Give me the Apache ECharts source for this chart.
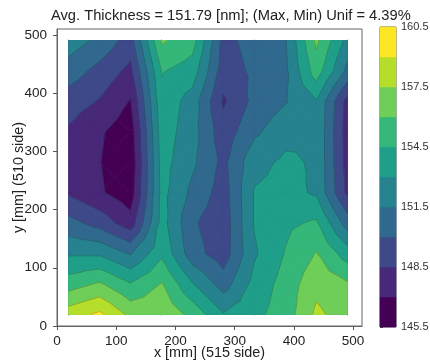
<!DOCTYPE html>
<html><head><meta charset="utf-8">
<script src="https://cdn.jsdelivr.net/npm/echarts@6/dist/echarts.min.js"></script>
<style>html,body{margin:0;padding:0;background:#fff}#c{width:430px;height:364px}</style>
</head><body><div id="c"></div>
<script>
// measurement grid (mm)
const xGrid = [20, 72, 124, 177, 229, 281, 333, 386, 438, 490];
const yGrid = [20, 72, 124, 177, 229, 281, 333, 386, 438, 490];
// thickness [nm], one row per y (bottom -> top), left -> right
const rowY20  = [158.3, 159.3, 157.1, 157.2, 155.5, 153.1, 154.1, 155.2, 157.8, 156.8];
const rowY72  = [155.3, 156.2, 154.6, 156.1, 153.1, 150.8, 153.5, 155.1, 157.1, 156.2];
const rowY124 = [152.8, 152.8, 151.4, 154.2, 150.6, 149.2, 152.8, 154.6, 156.1, 153.8];
const rowY177 = [150.5, 149.4, 147.6, 153.6, 150.2, 149.1, 153.1, 154.2, 154.7, 150.8];
const rowY229 = [148.3, 147.2, 146.1, 153.5, 151.1, 149.3, 153.1, 153.5, 152.8, 148.2];
const rowY281 = [147.6, 147.05, 145.8, 153.6, 151.8, 149.6, 152.5, 153.3, 152.8, 147.9];
const rowY333 = [148.3, 147.2, 146.1, 153.8, 152.1, 149.1, 151.2, 152.5, 152.8, 147.8];
const rowY386 = [149.2, 148.4, 146.9, 154.1, 152.3, 148.3, 150.4, 151.4, 152.9, 148.0];
const rowY438 = [150.8, 149.5, 148.1, 154.6, 153.8, 149.2, 150.3, 151.2, 155.3, 151.1];
const rowY490 = [152.3, 151.1, 149.3, 156.2, 155.1, 149.5, 150.6, 151.4, 156.3, 152.5];
const thickness = [rowY20, rowY72, rowY124, rowY177, rowY229, rowY281, rowY333, rowY386, rowY438, rowY490];

const levels = [145.5, 147, 148.5, 150, 151.5, 153, 154.5, 156, 157.5, 159, 160.5];
const colorbarTicks = [145.5, 148.5, 151.5, 154.5, 157.5, 160.5];
const axisTicks = [0, 100, 200, 300, 400, 500];
const titleText = 'Avg. Thickness = 151.79 [nm]; (Max, Min) Unif = 4.39%';

const bandColors = ['#440154','#482878','#3e4989','#31688e','#26828e','#1f9e89','#35b779','#6ece58','#b5de2b','#fde725'];
const FONT = 'Liberation Sans, Arial, Helvetica, sans-serif';

// ---- contour geometry (linear interpolation on triangles of each grid cell) ----
function lerpPt(a, b, L) {
  const t = (L - a[2]) / (b[2] - a[2]);
  return [a[0] + t * (b[0] - a[0]), a[1] + t * (b[1] - a[1]), L];
}
function clipPoly(poly, L, keepAbove) {
  const out = [];
  const n = poly.length;
  for (let i = 0; i < n; i++) {
    const a = poly[i], b = poly[(i + 1) % n];
    const ia = keepAbove ? a[2] >= L : a[2] <= L;
    const ib = keepAbove ? b[2] >= L : b[2] <= L;
    if (ia) out.push(a);
    if (ia !== ib) out.push(lerpPt(a, b, L));
  }
  return out;
}
const tris = [];
for (let j = 0; j < yGrid.length - 1; j++) {
  for (let i = 0; i < xGrid.length - 1; i++) {
    const p00 = [xGrid[i], yGrid[j], thickness[j][i]];
    const p10 = [xGrid[i + 1], yGrid[j], thickness[j][i + 1]];
    const p11 = [xGrid[i + 1], yGrid[j + 1], thickness[j + 1][i + 1]];
    const p01 = [xGrid[i], yGrid[j + 1], thickness[j + 1][i]];
    const c = [(p00[0] + p10[0]) / 2, (p00[1] + p01[1]) / 2, (p00[2] + p10[2] + p11[2] + p01[2]) / 4];
    tris.push([p00, p10, c], [p10, p11, c], [p11, p01, c], [p01, p00, c]);
  }
}
// layered fill: layer k = region where value >= levels[k], painted in band k colour
const fillPolys = [];
const segs = [];
for (let k = 0; k < bandColors.length; k++) {
  tris.forEach(t => {
    const vmax = Math.max(t[0][2], t[1][2], t[2][2]);
    if (k > 0 && vmax < levels[k]) return;
    const poly = k === 0 ? t : clipPoly(t, levels[k], true);
    if (poly.length >= 3) fillPolys.push({ band: k, pts: poly });
  });
}
tris.forEach(t => {
  const vs = t.map(p => p[2]);
  const vmin = Math.min(...vs), vmax = Math.max(...vs);
  for (let k = 1; k < levels.length - 1; k++) {
    const L = levels[k];
    if (L <= vmin || L >= vmax) continue;
    const pts = [];
    for (let e = 0; e < 3; e++) {
      const a = t[e], b = t[(e + 1) % 3];
      if ((a[2] < L) !== (b[2] < L)) pts.push(lerpPt(a, b, L));
    }
    if (pts.length === 2) segs.push(pts);
  }
});

const chart = echarts.init(document.getElementById('c'), null, { renderer: 'canvas' });
const axisLabelStyle = { color: '#222', fontSize: 13.5, fontFamily: FONT };
chart.setOption({
  animation: false,
  title: {
    text: titleText, left: 46, top: 3,
    textStyle: { fontSize: 14.7, fontWeight: 'normal', color: '#222', fontFamily: FONT }
  },
  grid: [
    { left: 57, top: 29, width: 305, height: 297, show: true, borderColor: '#666', borderWidth: 1, outerBoundsMode: 'none', containLabel: false },
    { left: 380, top: 27, width: 16, height: 300, show: true, borderColor: '#555', borderWidth: 1, outerBoundsMode: 'none', containLabel: false }
  ],
  xAxis: [
    {
      type: 'value', gridIndex: 0, min: 0, max: 515,
      name: 'x [mm] (515 side)', nameLocation: 'middle', nameGap: 20, nameMoveOverlap: false,
      nameTextStyle: { fontSize: 14.4, color: '#222', fontFamily: FONT },
      axisLine: { show: true, lineStyle: { color: '#666' } },
      axisTick: { show: true, length: 4, customValues: axisTicks, lineStyle: { color: '#555' } },
      axisLabel: Object.assign({ margin: 8, customValues: axisTicks }, axisLabelStyle),
      splitLine: { show: false }
    },
    { type: 'value', gridIndex: 1, min: 0, max: 1, show: false }
  ],
  yAxis: [
    {
      type: 'value', gridIndex: 0, min: 0, max: 510,
      name: 'y [mm] (510 side)', nameLocation: 'middle', nameGap: 31, nameMoveOverlap: false,
      nameTextStyle: { fontSize: 14.4, color: '#222', fontFamily: FONT },
      axisLine: { show: true, lineStyle: { color: '#666' } },
      axisTick: { show: true, length: 4, customValues: axisTicks, lineStyle: { color: '#555' } },
      axisLabel: Object.assign({ margin: 10, customValues: axisTicks }, axisLabelStyle),
      splitLine: { show: false }
    },
    {
      type: 'value', gridIndex: 1, min: 145.5, max: 160.5, position: 'right',
      axisLine: { show: false },
      axisTick: { show: true, length: 3, customValues: colorbarTicks, lineStyle: { color: '#444' } },
      axisLabel: { customValues: colorbarTicks, margin: 5, fontSize: 11, color: '#333', fontFamily: FONT,
                   formatter: v => v.toFixed(1) },
      splitLine: { show: false }
    }
  ],
  series: [
    {
      type: 'custom', xAxisIndex: 0, yAxisIndex: 0, progressive: 0, clip: true, silent: true,
      data: fillPolys.map((p, i) => [i]),
      renderItem: (params, api) => {
        const p = fillPolys[params.dataIndex];
        const pts = p.pts.map(q => api.coord([q[0], q[1]]));
        const col = bandColors[p.band];
        return { type: 'polygon', shape: { points: pts }, style: { fill: col, stroke: col, lineWidth: 1 } };
      }
    },
    {
      type: 'custom', xAxisIndex: 0, yAxisIndex: 0, progressive: 0, clip: true, silent: true,
      data: segs.map((s, i) => [i]),
      renderItem: (params, api) => {
        const s = segs[params.dataIndex];
        const a = api.coord([s[0][0], s[0][1]]), b = api.coord([s[1][0], s[1][1]]);
        return { type: 'line', shape: { x1: a[0], y1: a[1], x2: b[0], y2: b[1] },
                 style: { stroke: 'rgba(30,30,40,0.4)', lineWidth: 0.7 } };
      }
    },
    {
      type: 'custom', xAxisIndex: 1, yAxisIndex: 1, progressive: 0, silent: true,
      data: bandColors.map((c, i) => [i]),
      renderItem: (params, api) => {
        const k = params.dataIndex;
        const tl = api.coord([0, levels[k + 1]]);
        const br = api.coord([1, levels[k]]);
        return { type: 'rect', shape: { x: tl[0], y: tl[1], width: br[0] - tl[0], height: br[1] - tl[1] },
                 style: { fill: bandColors[k], stroke: bandColors[k], lineWidth: 0.5 } };
      }
    }
  ]
});
</script>
</body></html>
